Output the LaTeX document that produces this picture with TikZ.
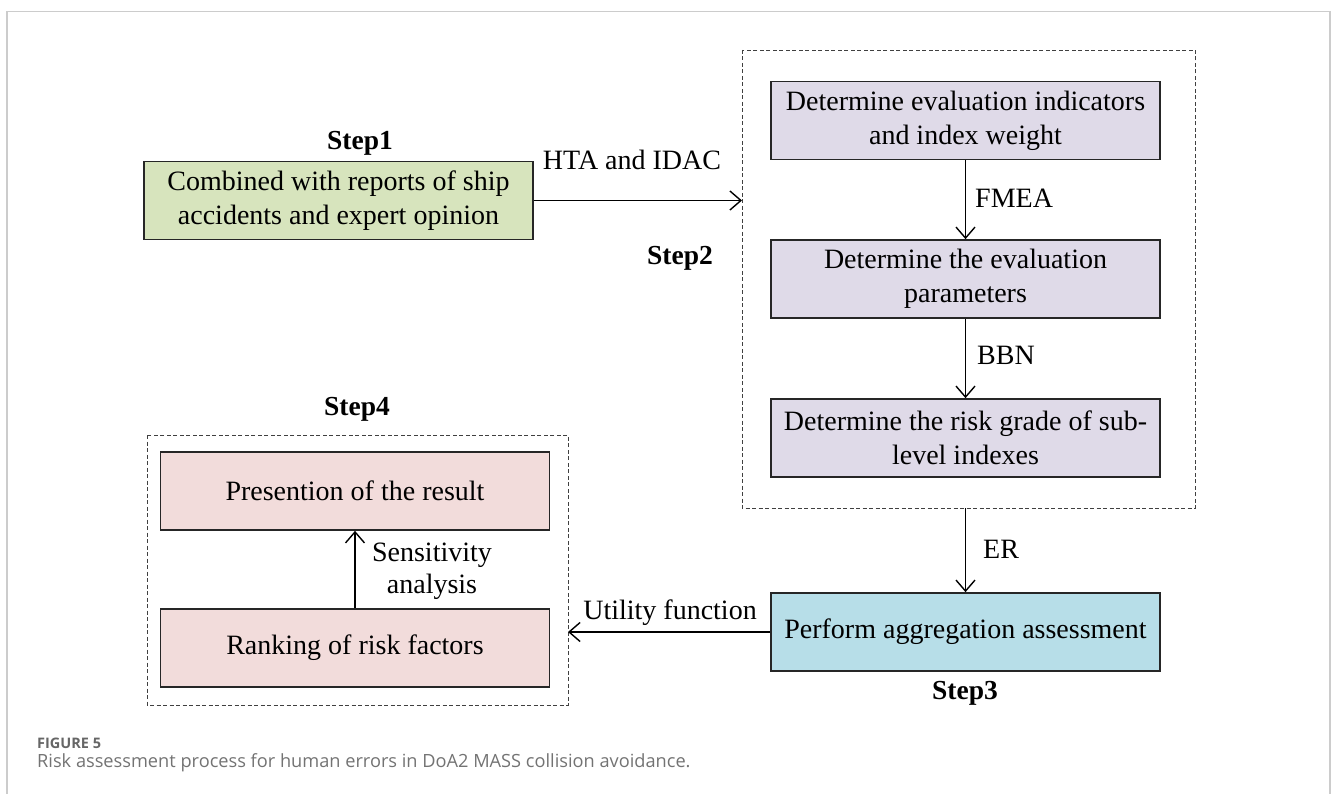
\documentclass[tikz,border=0pt]{standalone}
\usepackage{fontspec}
\setmainfont{Liberation Serif}
\newfontfamily\capfont{Open Sans}
\usetikzlibrary{arrows.meta}
\begin{document}
\begin{tikzpicture}[x=1pt,y=-1pt,
  box/.style={draw=black!85, line width=1.7pt, minimum width=\boxw pt, minimum height=\boxh pt, inner sep=0pt, align=center, font=\fontsize{28}{34}\selectfont},
  stepframe/.style={draw=black!75, line width=0.9pt, dash pattern=on 4pt off 2.5pt},
  flow/.style={line width=1.4pt, -{Straight Barb[length=11pt,width=19pt,line width=1.4pt]}},
  lbl/.style={inner sep=0pt, font=\fontsize{28}{32}\selectfont},
  steplbl/.style={inner sep=0pt, font=\fontsize{27.5}{31}\selectfont\bfseries}]
\pgfmathsetmacro\boxw{389};
\pgfmathsetmacro\boxh{78};
\definecolor{stepgreen}{HTML}{D7E4BD}
\definecolor{steppurple}{HTML}{DFDAE8}
\definecolor{steppink}{HTML}{F2DCDB}
\definecolor{stepblue}{HTML}{B7DEE8}
\useasboundingbox (0,0) rectangle (1331,794);
\draw[black!20, line width=1.3pt] (7,794) -- (7,11.5) -- (1330,11.5) -- (1330,794);
% step 1
\node[box, fill=stepgreen] (s1) at (338.5,200.5) {Combined with reports of ship\\accidents and expert opinion};
\node[steplbl, anchor=base] (t1) at (360,150) {Step1};
% step 2
\draw[stepframe] (742,50) rectangle (1195,508);
\coordinate (f2w) at (742,200.5);
\coordinate (f2s) at (965.5,508);
\foreach \n/\y/\txt in {a/120.5/{Determine evaluation indicators\\and index weight}, b/279/{Determine the evaluation\\parameters}, c/438/{Determine the risk grade of sub-\\level indexes}}
  \node[box, fill=steppurple] (s2\n) at (965.5,\y) {\txt};
\node[steplbl, anchor=base] (t2) at (680,265) {Step2};
\draw[flow] (s1) -- (f2w);
\node[lbl, anchor=base] (hta) at (632,170) {HTA and IDAC};
\draw[flow] (s2a) -- (s2b);
\node[lbl, anchor=base west] (fmea) at (975,208) {FMEA};
\draw[flow] (s2b) -- (s2c);
\node[lbl, anchor=base west] (bbn) at (977,365) {BBN};
% step 3
\node[box, fill=stepblue] (s3) at (965.5,632) {Perform aggregation assessment};
\node[steplbl, anchor=base] (t3) at (965,699) {Step3};
\draw[flow] (f2s) -- (s3);
\node[lbl, anchor=base west] (er) at (983,558) {ER};
% step 4
\draw[stepframe] (147,435) rectangle (568,705);
\coordinate (f4e) at (568,632);
\node[box, fill=steppink] (s4a) at (355,491) {Presention of the result};
\node[box, fill=steppink] (s4b) at (355,648) {Ranking of risk factors};
\node[steplbl, anchor=base] (t4) at (357,415) {Step4};
\draw[flow] (s4b) -- (s4a);
\node[lbl, align=center] (sens) at (432,571) {Sensitivity\\analysis};
\draw[flow] (s3) -- (f4e);
\node[lbl, anchor=base] (util) at (670,619) {Utility function};
% caption
\node[anchor=base west, inner sep=0pt, text=black!60, font=\capfont\fontsize{14.5}{16}\selectfont\bfseries] (fig) at (37,748) {FIGURE 5};
\node[anchor=base west, inner sep=0pt, text=black!55, font=\capfont\fontsize{18.2}{22}\selectfont] (cap) at (37,767) {Risk assessment process for human errors in DoA2 MASS collision avoidance.};
\end{tikzpicture}
\end{document}
